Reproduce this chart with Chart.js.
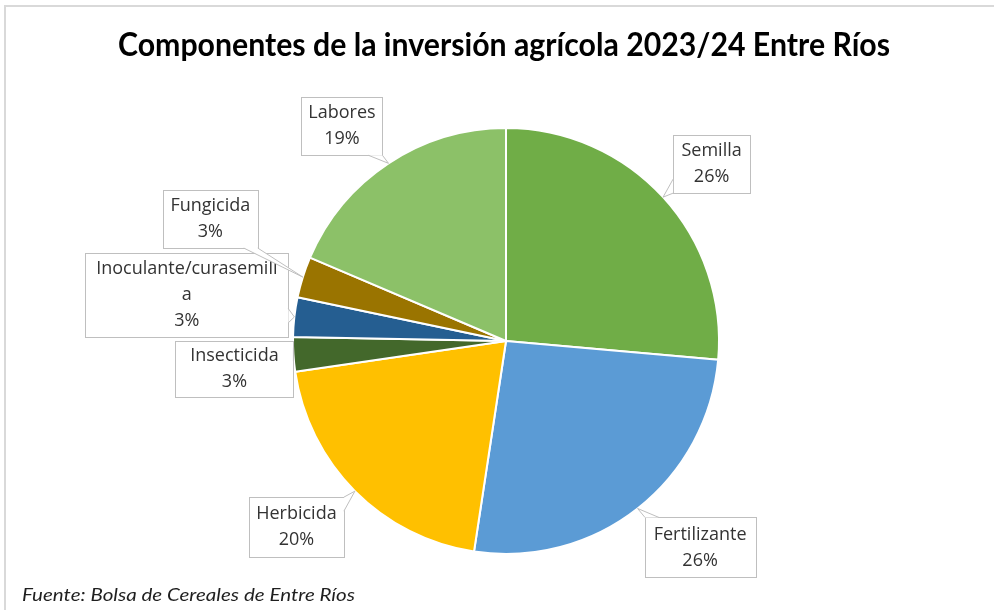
<!DOCTYPE html>
<html>
<head>
<meta charset="utf-8">
<script src="https://cdn.jsdelivr.net/npm/chart.js@4"></script>
<style>
  html, body { margin: 0; padding: 0; background: #ffffff; }
  #wrap { position: relative; width: 994px; height: 610px; }
</style>
</head>
<body>
<div id="wrap"><canvas id="c" width="994" height="610"></canvas></div>
<script>
// ---- data ----
const categories = ['Semilla', 'Fertilizante', 'Herbicida', 'Insecticida', 'Inoculante/curasemilla', 'Fungicida', 'Labores'];
const values = [26.4, 26.0, 20.3, 2.6, 3.0, 3.1, 18.6];
const labelLines = [['Semilla'], ['Fertilizante'], ['Herbicida'], ['Insecticida'], ['Inoculante/curasemill', 'a'], ['Fungicida'], ['Labores']];
const titleText = 'Componentes de la inversión agrícola 2023/24 Entre Ríos';
const footerText = 'Fuente: Bolsa de Cereales de Entre Ríos';

// ---- style / layout ----
const colors = ['#70AD47', '#5B9BD5', '#FFC000', '#43682B', '#255E91', '#9A7400', '#8CC168'];
// label box centre offsets from slice outer-edge midpoint, and box sizes
const boxOffsets = [[48.5, -33], [62.5, 39], [-58.5, 36], [-59, 15], [-107.5, -22], [-92.5, -58], [-46.5, -37]];
const boxSizes = [[77, 58], [111, 60], [95, 60], [118, 56], [203, 84], [95, 58], [81, 58]];

const calloutPlugin = {
  id: 'callouts',
  beforeDraw(chart) {
    const ctx = chart.ctx;
    ctx.save();
    ctx.fillStyle = '#ffffff';
    ctx.fillRect(0, 0, chart.width, chart.height);
    // frame
    ctx.strokeStyle = '#D9D9D9';
    ctx.lineWidth = 2;
    ctx.strokeRect(5, 6, chart.width + 20, chart.height + 20);
    // title
    ctx.fillStyle = '#000000';
    ctx.textBaseline = 'alphabetic';
    ctx.textAlign = 'left';
    ctx.font = 'bold 33px Lato';
    let w = ctx.measureText(titleText).width;
    ctx.save();
    ctx.translate(118, 56);
    ctx.scale(772 / w, 1);
    ctx.fillText(titleText, 0, 0);
    ctx.restore();
    // footer
    ctx.fillStyle = '#1F1F1F';
    ctx.font = 'italic 17px Lato';
    w = ctx.measureText(footerText).width;
    ctx.save();
    ctx.translate(22, 601);
    ctx.scale(333 / w, 1);
    ctx.fillText(footerText, 0, 0);
    ctx.restore();
    ctx.restore();
  },
  afterDatasetsDraw(chart) {
    const ctx = chart.ctx;
    const meta = chart.getDatasetMeta(0);
    const total = values.reduce((a, b) => a + b, 0);
    meta.data.forEach((arc, i) => {
      const mid = (arc.startAngle + arc.endAngle) / 2;
      const tx = arc.x + Math.cos(mid) * arc.outerRadius;
      const ty = arc.y + Math.sin(mid) * arc.outerRadius;
      const cx = tx + boxOffsets[i][0];
      const cy = ty + boxOffsets[i][1];
      const bw = boxSizes[i][0], bh = boxSizes[i][1];
      const x0 = cx - bw / 2, y0 = cy - bh / 2;
      const dx = tx - cx, dy = ty - cy;
      const sx = dx !== 0 ? (bw / 2) / Math.abs(dx) : Infinity;
      const sy = dy !== 0 ? (bh / 2) / Math.abs(dy) : Infinity;
      let b1, b2;
      const half = 7;
      if (sx < sy) {
        const ex = cx + dx * sx;
        let ey = cy + dy * sx;
        ey = Math.max(y0 + half, Math.min(y0 + bh - half, ey));
        b1 = [ex, ey - half]; b2 = [ex, ey + half];
      } else {
        let ex = cx + dx * sy;
        const ey = cy + dy * sy;
        ex = Math.max(x0 + half, Math.min(x0 + bw - half, ex));
        b1 = [ex - half, ey]; b2 = [ex + half, ey];
      }
      ctx.save();
      ctx.lineWidth = 1;
      ctx.strokeStyle = '#BFBFBF';
      ctx.fillStyle = '#ffffff';
      ctx.fillRect(x0, y0, bw, bh);
      ctx.strokeRect(Math.round(x0) + 0.5, Math.round(y0) + 0.5, Math.round(bw), Math.round(bh));
      ctx.beginPath();
      ctx.moveTo(b1[0], b1[1]);
      ctx.lineTo(tx, ty);
      ctx.lineTo(b2[0], b2[1]);
      ctx.closePath();
      ctx.fill();
      ctx.beginPath();
      ctx.moveTo(b1[0], b1[1]);
      ctx.lineTo(tx, ty);
      ctx.lineTo(b2[0], b2[1]);
      ctx.stroke();
      const lines = labelLines[i].concat([Math.round(values[i] / total * 100) + '%']);
      ctx.fillStyle = '#333333';
      ctx.font = '18px "Open Sans"';
      ctx.textAlign = 'center';
      ctx.textBaseline = 'middle';
      const lh = 26;
      const startY = cy - (lines.length - 1) * lh / 2;
      lines.forEach((t, k) => {
        ctx.fillText(t, cx, startY + k * lh);
      });
      ctx.restore();
    });
  }
};

new Chart(document.getElementById('c'), {
  type: 'pie',
  data: {
    labels: categories,
    datasets: [{
      data: values,
      backgroundColor: colors,
      borderColor: '#ffffff',
      borderWidth: 2,
      hoverOffset: 0
    }]
  },
  options: {
    responsive: false,
    animation: false,
    layout: { padding: { top: 127, bottom: 55, left: 292, right: 274 } },
    plugins: {
      legend: { display: false },
      tooltip: { enabled: false },
      title: { display: false }
    }
  },
  plugins: [calloutPlugin]
});
</script>
</body>
</html>
